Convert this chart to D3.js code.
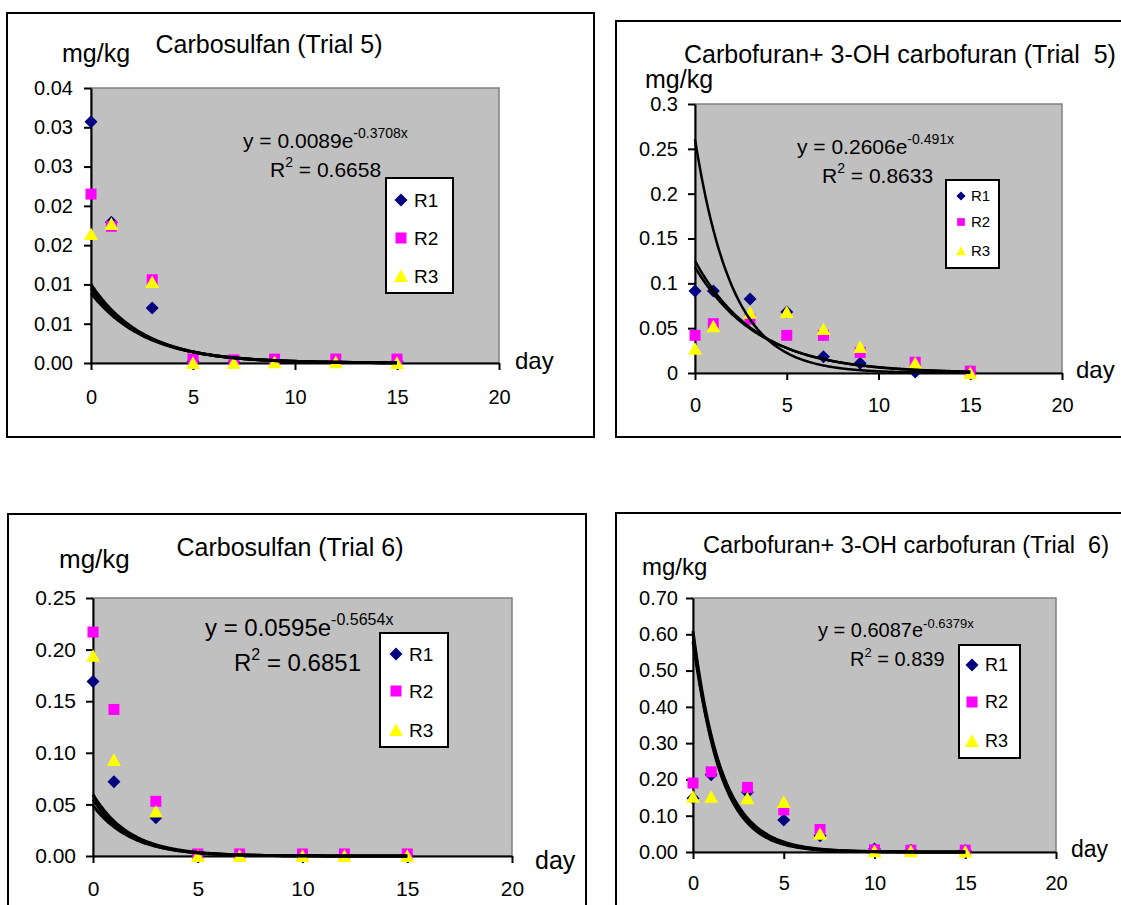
<!DOCTYPE html>
<html>
<head>
<meta charset="utf-8">
<script src="https://cdn.jsdelivr.net/npm/d3@7"></script>
<style>
body { margin: 0; background: #fff; }
text { font-family: "Liberation Sans", Arial, sans-serif; fill: #000; white-space: pre; }
</style>
</head>
<body>
<svg id="chart" width="1121" height="905"></svg>
<script>
// sampling days
const daysTrial5 = [0, 1, 3, 5, 7, 9, 12, 15];
const daysTrial6 = [0, 1, 3, 5, 7, 10, 12, 15];

// Carbosulfan, trial 5 (mg/kg)
const cs5R1 = [0.0307, 0.0179, 0.0070, 0.0002, 0.0001, 0.0002, 0.0002, 0.0002];
const cs5R2 = [0.0215, 0.0174, 0.0106, 0.0005, 0.0004, 0.0005, 0.0005, 0.0005];
const cs5R3 = [0.0164, 0.0177, 0.0103, 0.0000, 0.0000, 0.0001, 0.0001, 0.0000];
// exponential trendlines a*e^(-b*x)
const cs5Trend = [[0.0100, 0.39], [0.0089, 0.3708], [0.0095, 0.38]];

// Carbofuran + 3-OH carbofuran, trial 5
const cf5R1 = [0.0915, 0.0915, 0.0825, 0.068, 0.018, 0.011, 0.001, 0.001];
const cf5R2 = [0.042, 0.055, 0.060, 0.042, 0.042, 0.023, 0.012, 0.002];
const cf5R3 = [0.027, 0.052, 0.067, 0.068, 0.049, 0.029, 0.011, 0.000];
const cf5Trend = [[0.2606, 0.491], [0.125, 0.30], [0.118, 0.29]];

// Carbosulfan, trial 6
const cs6R1 = [0.169, 0.072, 0.037, 0.0005, 0.0005, 0.0005, 0.0005, 0.0005];
const cs6R2 = [0.217, 0.142, 0.053, 0.002, 0.002, 0.002, 0.002, 0.002];
const cs6R3 = [0.194, 0.093, 0.043, 0.000, 0.000, 0.000, 0.000, 0.000];
const cs6Trend = [[0.0595, 0.5654], [0.049, 0.55], [0.055, 0.58]];

// Carbofuran + 3-OH carbofuran, trial 6
const cf6R1 = [0.148, 0.213, 0.165, 0.088, 0.045, 0.008, 0.005, 0.004];
const cf6R2 = [0.190, 0.221, 0.178, 0.116, 0.062, 0.006, 0.005, 0.005];
const cf6R3 = [0.152, 0.152, 0.148, 0.138, 0.050, 0.002, 0.002, 0.001];
const cf6Trend = [[0.6087, 0.6379], [0.58, 0.61], [0.60, 0.67]];

// axis ticks
const xTicks = [0, 5, 10, 15, 20];
const cs5YTicks = [0, 0.005, 0.01, 0.015, 0.02, 0.025, 0.03, 0.035];
const cs5YLabels = ["0.00", "0.01", "0.01", "0.02", "0.02", "0.03", "0.03", "0.04"];
const cf5YTicks = [0, 0.05, 0.1, 0.15, 0.2, 0.25, 0.3];
const cf5YLabels = ["0", "0.05", "0.1", "0.15", "0.2", "0.25", "0.3"];
const cs6YTicks = [0, 0.05, 0.1, 0.15, 0.2, 0.25];
const cs6YLabels = ["0.00", "0.05", "0.10", "0.15", "0.20", "0.25"];
const cf6YTicks = [0, 0.1, 0.2, 0.3, 0.4, 0.5, 0.6, 0.7];
const cf6YLabels = ["0.00", "0.10", "0.20", "0.30", "0.40", "0.50", "0.60", "0.70"];

const seriesNames = ["R1", "R2", "R3"];
const seriesColors = ["#000080", "#ff00ff", "#ffff00"];

// marker shapes, size = width in px
const diamond = { draw(ctx, s) { const r = s / 2; ctx.moveTo(0, -r); ctx.lineTo(r, 0); ctx.lineTo(0, r); ctx.lineTo(-r, 0); ctx.closePath(); } };
const square = { draw(ctx, s) { const r = s / 2; ctx.rect(-r, -r, s, s); } };
const triangle = { draw(ctx, s) { const r = s / 2; ctx.moveTo(0, -r * 0.95); ctx.lineTo(r, r * 0.85); ctx.lineTo(-r, r * 0.85); ctx.closePath(); } };
const shapes = [diamond, square, triangle];
const shapeSizes = [13, 11, 14];

const svg = d3.select("#chart");

function drawPanel(p) {
    const g = svg.append("g");

    // outer frame
    g.append("rect")
        .attr("x", p.box[0]).attr("y", p.box[1])
        .attr("width", p.box[2]).attr("height", p.box[3])
        .attr("fill", "#fff").attr("stroke", "#000").attr("stroke-width", 2);

    const x = d3.scaleLinear().domain([0, 20]).range([p.plot.l, p.plot.r]);
    const y = d3.scaleLinear().domain([0, p.yMax]).range([p.plot.b, p.plot.t]);

    // plot area
    g.append("rect")
        .attr("x", p.plot.l).attr("y", p.plot.t)
        .attr("width", p.plot.r - p.plot.l).attr("height", p.plot.b - p.plot.t)
        .attr("fill", "#c0c0c0").attr("stroke", "#808080").attr("stroke-width", 1.5);

    // axes
    const yAxis = g.append("g")
        .attr("transform", "translate(" + p.plot.l + ",0)")
        .call(d3.axisLeft(y).tickValues(p.yTicks)
            .tickFormat((d, i) => p.yLabels[i])
            .tickSize(7).tickPadding(p.yPad).tickSizeOuter(0));
    const xAxis = g.append("g")
        .attr("transform", "translate(0," + p.plot.b + ")")
        .call(d3.axisBottom(x).tickValues(xTicks)
            .tickSize(7).tickPadding(p.xPad).tickSizeOuter(0));
    [yAxis, xAxis].forEach(ax => {
        ax.select(".domain").attr("stroke", "#000").attr("stroke-width", 2);
        ax.selectAll(".tick line").attr("stroke", "#000").attr("stroke-width", 2);
        ax.selectAll("text").attr("font-size", p.tickSize)
            .style("font-family", "'Liberation Sans', Arial, sans-serif");
    });

    // points
    p.series.forEach((vals, si) => {
        g.selectAll(".pt" + si)
            .data(vals.map((v, i) => [p.days[i], v]))
            .enter()
            .append("path")
            .attr("d", d3.symbol(shapes[si], shapeSizes[si]))
            .attr("transform", d => "translate(" + x(d[0]) + "," + y(d[1]) + ")")
            .attr("fill", seriesColors[si]);
    });

    // exponential trendlines
    const line = d3.line().x(d => x(d[0])).y(d => y(d[1])).curve(d3.curveBasis);
    p.trend.forEach(tr => {
        const pts = d3.range(0, 15.001, 0.1).map(t => [t, tr[0] * Math.exp(-tr[1] * t)]);
        g.append("path")
            .attr("d", line(pts))
            .attr("fill", "none")
            .attr("stroke", "#000")
            .attr("stroke-width", p.trendWidth);
    });

    // texts
    g.append("text")
        .attr("x", p.title.x).attr("y", p.title.y)
        .attr("font-size", p.title.size)
        .attr("text-anchor", p.title.anchor)
        .text(p.title.text);
    g.append("text").attr("x", p.unit.x).attr("y", p.unit.y)
        .attr("font-size", p.unit.size).text("mg/kg");
    g.append("text").attr("x", p.day.x).attr("y", p.day.y)
        .attr("font-size", p.day.size).text("day");

    const eq = g.append("text").attr("x", p.eq.x).attr("y", p.eq.y)
        .attr("font-size", p.eq.size);
    eq.append("tspan").text(p.eq.text);
    eq.append("tspan").attr("font-size", p.eq.sup).attr("dy", -p.eq.raise).text(p.eq.exp);

    const r2 = g.append("text").attr("x", p.r2.x).attr("y", p.r2.y)
        .attr("font-size", p.eq.size);
    r2.append("tspan").text("R");
    r2.append("tspan").attr("font-size", p.eq.sup).attr("dy", -p.eq.raise).text("2");
    r2.append("tspan").attr("dy", p.eq.raise).text(" = " + p.r2.text);

    // legend
    const lg = p.legend;
    g.append("rect")
        .attr("x", lg.box[0]).attr("y", lg.box[1])
        .attr("width", lg.box[2]).attr("height", lg.box[3])
        .attr("fill", "#fff").attr("stroke", "#000").attr("stroke-width", 2);
    seriesNames.forEach((name, si) => {
        g.append("path")
            .attr("d", d3.symbol(shapes[si], shapeSizes[si] * lg.mScale))
            .attr("transform", "translate(" + lg.mx + "," + lg.rows[si] + ")")
            .attr("fill", seriesColors[si]);
        g.append("text")
            .attr("x", lg.tx).attr("y", lg.rows[si] + lg.size * 0.36)
            .attr("font-size", lg.size).text(name);
    });
}

drawPanel({
    box: [7, 13, 587, 424],
    plot: { l: 91, t: 88, r: 499, b: 363 },
    yMax: 0.035, yTicks: cs5YTicks, yLabels: cs5YLabels,
    yPad: 11, xPad: 20, tickSize: 20,
    days: daysTrial5, series: [cs5R1, cs5R2, cs5R3], trend: cs5Trend, trendWidth: 3,
    title: { text: "Carbosulfan (Trial 5)", x: 269, y: 53, size: 25, anchor: "middle" },
    unit: { x: 62, y: 62, size: 25 },
    day: { x: 515, y: 369, size: 24 },
    eq: { text: "y = 0.0089e", exp: "-0.3708x", x: 243, y: 148, size: 21, sup: 14, raise: 10 },
    r2: { text: "0.6658", x: 270, y: 177 },
    legend: { box: [386, 178, 67, 115], rows: [200, 238, 276], mx: 401, tx: 414, size: 19, mScale: 1 }
});

drawPanel({
    box: [616, 21, 520, 416],
    plot: { l: 695, t: 104, r: 1062, b: 373 },
    yMax: 0.3, yTicks: cf5YTicks, yLabels: cf5YLabels,
    yPad: 10, xPad: 18, tickSize: 20,
    days: daysTrial5, series: [cf5R1, cf5R2, cf5R3], trend: cf5Trend, trendWidth: 2.5,
    title: { text: "Carbofuran+ 3-OH carbofuran (Trial  5)", x: 684, y: 63, size: 25, anchor: "start" },
    unit: { x: 645, y: 88, size: 25 },
    day: { x: 1076, y: 378, size: 24 },
    eq: { text: "y = 0.2606e", exp: "-0.491x", x: 797, y: 154, size: 21, sup: 14, raise: 10 },
    r2: { text: "0.8633", x: 822, y: 183 },
    legend: { box: [946, 180, 53, 88], rows: [196, 222, 251], mx: 961, tx: 971, size: 15, mScale: 0.7 }
});

drawPanel({
    box: [8, 514, 578, 420],
    plot: { l: 93, t: 598, r: 512, b: 856 },
    yMax: 0.25, yTicks: cs6YTicks, yLabels: cs6YLabels,
    yPad: 10, xPad: 18, tickSize: 21,
    days: daysTrial6, series: [cs6R1, cs6R2, cs6R3], trend: cs6Trend, trendWidth: 3,
    title: { text: "Carbosulfan (Trial 6)", x: 290, y: 556, size: 25, anchor: "middle" },
    unit: { x: 59, y: 568, size: 26 },
    day: { x: 535, y: 869, size: 25 },
    eq: { text: "y = 0.0595e", exp: "-0.5654x", x: 205, y: 636, size: 24, sup: 16, raise: 11 },
    r2: { text: "0.6851", x: 234, y: 671 },
    legend: { box: [380, 633, 68, 114], rows: [654, 691, 730], mx: 396, tx: 409, size: 19, mScale: 1 }
});

drawPanel({
    box: [616, 513, 520, 420],
    plot: { l: 693, t: 598, r: 1056, b: 852 },
    yMax: 0.7, yTicks: cf6YTicks, yLabels: cf6YLabels,
    yPad: 8, xPad: 17, tickSize: 20,
    days: daysTrial6, series: [cf6R1, cf6R2, cf6R3], trend: cf6Trend, trendWidth: 3,
    title: { text: "Carbofuran+ 3-OH carbofuran (Trial  6)", x: 703, y: 553, size: 23.5, anchor: "start" },
    unit: { x: 642, y: 575, size: 24 },
    day: { x: 1071, y: 857, size: 23 },
    eq: { text: "y = 0.6087e", exp: "-0.6379x", x: 818, y: 637, size: 20, sup: 13, raise: 9 },
    r2: { text: "0.839", x: 850, y: 666 },
    legend: { box: [959, 645, 61, 113], rows: [665, 702, 741], mx: 972, tx: 985, size: 18, mScale: 1 }
});
</script>
</body>
</html>
